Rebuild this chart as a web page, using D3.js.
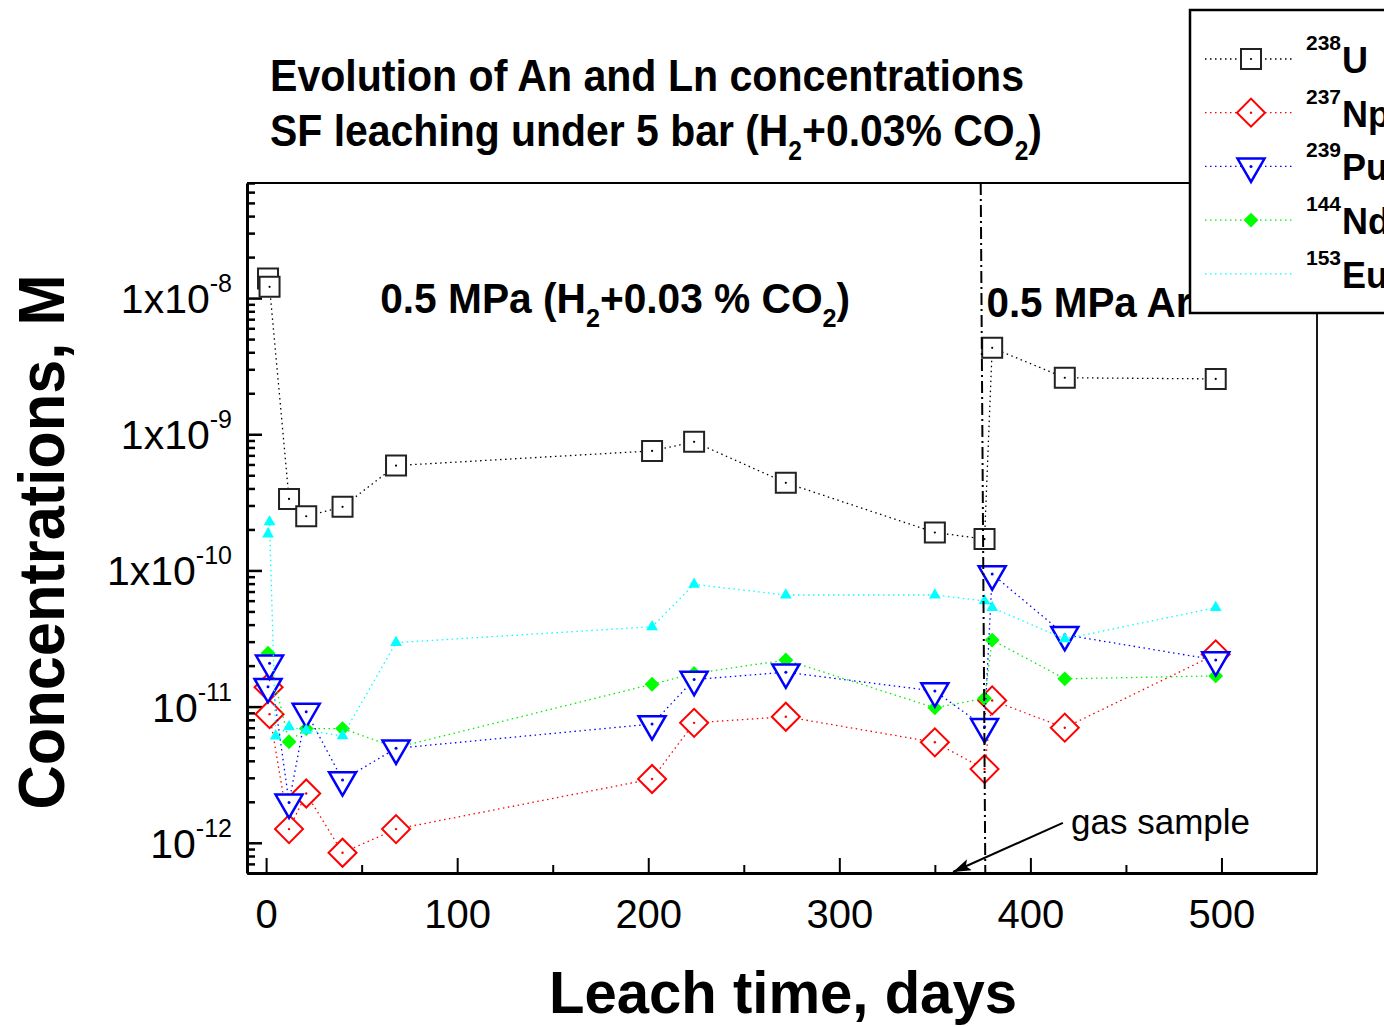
<!DOCTYPE html>
<html>
<head>
<meta charset="utf-8">
<script src="https://cdn.jsdelivr.net/npm/d3@7"></script>
<style>
    body { margin: 0; background: #fff; }
    svg { display: block; font-family: "Liberation Sans", Arial, sans-serif; }
</style>
</head>
<body>
<svg id="chart" width="1384" height="1027"></svg>
<script>

// ----------------------------------------------------------------------
//  DATA  (leach time in days, concentration in mol/L)
// ----------------------------------------------------------------------

const uDays  = [1.0, 1.8, 12, 21, 40, 68, 202, 224, 272, 350, 376, 380, 418, 497];
const uConc  = [1.39e-8, 1.21e-8, 3.35e-10, 2.5e-10, 2.93e-10, 5.89e-10, 7.55e-10, 8.8e-10,
                4.4e-10, 1.9e-10, 1.7e-10, 4.31e-9, 2.6e-9, 2.55e-9];

const npDays = [1.3, 1.8, 12, 21, 40, 68, 202, 224, 272, 350, 376, 380, 418, 497];
const npConc = [1.39e-11, 8.8e-12, 1.26e-12, 2.3e-12, 8.45e-13, 1.26e-12, 2.94e-12, 7.6e-12,
                8.43e-12, 5.47e-12, 3.48e-12, 1.11e-11, 7.0e-12, 2.42e-11];

const puDays = [1.0, 1.8, 12, 21, 40, 68, 202, 224, 272, 350, 376, 380, 418, 497];
const puConc = [1.4e-11, 2.08e-11, 1.98e-12, 9.18e-12, 2.89e-12, 4.94e-12, 7.45e-12, 1.58e-11,
                1.79e-11, 1.3e-11, 7.1e-12, 9.4e-11, 3.37e-11, 2.2e-11];

const ndDays = [1.0, 12, 21, 40, 68, 202, 224, 272, 350, 376, 380, 418, 497];
const ndConc = [2.47e-11, 5.52e-12, 6.9e-12, 6.9e-12, 5.0e-12, 1.46e-11, 1.75e-11, 2.2e-11,
                9.8e-12, 1.15e-11, 3.08e-11, 1.6e-11, 1.68e-11];

const euDays = [1.0, 1.8, 5, 12, 21, 40, 68, 202, 224, 272, 350, 376, 380, 418, 497];
const euConc = [1.85e-10, 2.27e-10, 6.08e-12, 7.1e-12, 6.7e-12, 6.1e-12, 2.95e-11, 3.86e-11,
                7.9e-11, 6.6e-11, 6.6e-11, 5.97e-11, 5.33e-11, 3.14e-11, 5.33e-11];

// Axis ticks and labels
const xTicks      = [0, 100, 200, 300, 400, 500];
const xMinorTicks = [50, 150, 250, 350, 450];
const yTicks      = [1e-8, 1e-9, 1e-10, 1e-11, 1e-12];
const yTickBase   = ["1x10", "1x10", "1x10", "10", "10"];
const yTickExp    = ["-8", "-9", "-10", "-11", "-12"];

// Legend labels
const legendMass    = ["238", "237", "239", "144", "153"];
const legendElement = ["U", "Np", "Pu", "Nd", "Eu"];

// Atmosphere change (dash-dot line) and gas sample arrow, in data units
const switchDays   = [374, 376.4];
const arrowFrom    = [417, 1.4e-12];
const arrowTo      = [359.5, 6.1e-13];

// ----------------------------------------------------------------------
//  SETUP
// ----------------------------------------------------------------------

const svg = d3.select("#chart");

const plot = { left: 247, right: 1317, top: 183, bottom: 873 };

const x = d3.scaleLinear()
    .domain([-10, 550])
    .range([plot.left, plot.right]);

const y = d3.scaleLog()
    .domain([6e-13, 7e-8])
    .range([plot.bottom, plot.top]);

svg.append("defs").append("marker")
    .attr("id", "arrowHead")
    .attr("markerUnits", "userSpaceOnUse")
    .attr("markerWidth", 20)
    .attr("markerHeight", 12)
    .attr("refX", 18)
    .attr("refY", 6)
    .attr("orient", "auto")
    .append("path")
    .attr("d", "M0,0 L18,6 L0,12 L4,6 Z")
    .attr("fill", "#000");

// Series styles
const series = [
    { days: uDays,  conc: uConc,  color: "#000000", marker: "square" },
    { days: npDays, conc: npConc, color: "#ff0000", marker: "openDiamond" },
    { days: ndDays, conc: ndConc, color: "#00ee00", marker: "filledDiamond" },
    { days: puDays, conc: puConc, color: "#0000ff", marker: "openTriangleDown" },
    { days: euDays, conc: euConc, color: "#00ffff", marker: "filledTriangle" }
];
const legendOrder = [0, 1, 3, 2, 4];

function drawMarker(g, kind, color) {
    if (kind === "square") {
        g.append("path").attr("d", d3.symbol(d3.symbolSquare, 400)())
            .attr("fill", "#fff").attr("stroke", "#222").attr("stroke-width", 2);
        g.append("circle").attr("r", 1.1).attr("fill", "#000");
    } else if (kind === "openDiamond") {
        g.append("path").attr("d", d3.symbol(d3.symbolSquare, 392)())
            .attr("transform", "rotate(45)")
            .attr("fill", "#fff").attr("stroke", color).attr("stroke-width", 2);
        g.append("circle").attr("r", 1.2).attr("fill", color);
    } else if (kind === "openTriangleDown") {
        g.append("path").attr("d", d3.symbol(d3.symbolTriangle, 316)())
            .attr("transform", "rotate(180)")
            .attr("fill", "#fff").attr("stroke", color).attr("stroke-width", 2.5);
        g.append("circle").attr("r", 1.5).attr("fill", color);
    } else if (kind === "filledDiamond") {
        g.append("path").attr("d", d3.symbol(d3.symbolSquare, 110)())
            .attr("transform", "rotate(45)")
            .attr("fill", "#00ff00");
    } else if (kind === "filledTriangle") {
        g.append("path").attr("d", d3.symbol(d3.symbolTriangle, 60)())
            .attr("fill", color);
    }
}

// ----------------------------------------------------------------------
//  TITLES
// ----------------------------------------------------------------------

svg.append("text")
    .attr("x", 270).attr("y", 91)
    .attr("font-size", 45).attr("font-weight", "bold")
    .attr("textLength", 754).attr("lengthAdjust", "spacingAndGlyphs")
    .text("Evolution of An and Ln concentrations");

const t2 = svg.append("text")
    .attr("x", 270).attr("y", 146)
    .attr("font-size", 45).attr("font-weight", "bold")
    .attr("textLength", 772).attr("lengthAdjust", "spacingAndGlyphs");
t2.append("tspan").text("SF leaching under 5 bar (H");
t2.append("tspan").attr("font-size", 27).attr("dy", 14).text("2");
t2.append("tspan").attr("dy", -14).text("+0.03% CO");
t2.append("tspan").attr("font-size", 27).attr("dy", 14).text("2");
t2.append("tspan").attr("dy", -14).text(")");

// ----------------------------------------------------------------------
//  AXES
// ----------------------------------------------------------------------

// Frame (top and right)
svg.append("path")
    .attr("d", `M${plot.left},${plot.top}H${plot.right}V${plot.bottom}`)
    .attr("fill", "none").attr("stroke", "#000").attr("stroke-width", 1.8);

// Y axis, minor then major ticks (pointing inwards).
const yMinor = y.ticks().filter(v => !yTicks.includes(v));
svg.append("g")
    .attr("transform", `translate(${plot.left},0)`)
    .call(d3.axisLeft(y).tickValues(yMinor).tickSize(-8).tickSizeOuter(0).tickFormat(""))
    .call(g => g.select(".domain").remove())
    .call(g => g.selectAll(".tick line").attr("stroke-width", 2.5));

const yAxis = svg.append("g")
    .attr("transform", `translate(${plot.left},0)`)
    .call(d3.axisLeft(y).tickValues(yTicks).tickSize(-15).tickSizeOuter(0).tickFormat(""));
yAxis.select(".domain").attr("stroke-width", 3);
yAxis.selectAll(".tick line").attr("stroke-width", 2.5);

const yLabels = svg.append("g")
    .selectAll("text")
    .data(yTicks)
    .join("text")
    .attr("x", 232)
    .attr("y", d => y(d) + 15)
    .attr("text-anchor", "end")
    .attr("font-size", 41);
yLabels.append("tspan").text((d, i) => yTickBase[i]);
yLabels.append("tspan").attr("font-size", 25).attr("dy", -21).text((d, i) => yTickExp[i]);

// X axis
svg.append("g")
    .attr("transform", `translate(0,${plot.bottom})`)
    .call(d3.axisBottom(x).tickValues(xMinorTicks).tickSize(-8).tickSizeOuter(0).tickFormat(""))
    .call(g => g.select(".domain").remove())
    .call(g => g.selectAll(".tick line").attr("stroke-width", 2));

const xAxis = svg.append("g")
    .attr("transform", `translate(0,${plot.bottom})`)
    .call(d3.axisBottom(x).tickValues(xTicks).tickSize(-15).tickSizeOuter(0).tickPadding(27));
xAxis.select(".domain").attr("stroke-width", 3);
xAxis.selectAll(".tick line").attr("stroke-width", 2);
xAxis.selectAll(".tick text")
    .attr("font-size", 40)
    .attr("font-family", "Liberation Sans, Arial, sans-serif")
    .attr("fill", "#000");

// Axis titles
svg.append("text")
    .attr("transform", "translate(64,542) rotate(-90)")
    .attr("text-anchor", "middle")
    .attr("font-size", 64).attr("font-weight", "bold")
    .attr("textLength", 535).attr("lengthAdjust", "spacingAndGlyphs")
    .text("Concentrations, M");

svg.append("text")
    .attr("x", 783).attr("y", 1013)
    .attr("text-anchor", "middle")
    .attr("font-size", 59).attr("font-weight", "bold")
    .attr("textLength", 468).attr("lengthAdjust", "spacingAndGlyphs")
    .text("Leach time, days");

// ----------------------------------------------------------------------
//  ANNOTATIONS
// ----------------------------------------------------------------------

const a1 = svg.append("text")
    .attr("x", x(59.7)).attr("y", y(7.8e-9))
    .attr("font-size", 42).attr("font-weight", "bold")
    .attr("textLength", 470).attr("lengthAdjust", "spacingAndGlyphs");
a1.append("tspan").text("0.5 MPa (H");
a1.append("tspan").attr("font-size", 26).attr("dy", 14).text("2");
a1.append("tspan").attr("dy", -14).text("+0.03 % CO");
a1.append("tspan").attr("font-size", 26).attr("dy", 14).text("2");
a1.append("tspan").attr("dy", -14).text(")");

svg.append("text")
    .attr("x", x(377)).attr("y", y(7.3e-9))
    .attr("font-size", 42).attr("font-weight", "bold")
    .attr("textLength", 205).attr("lengthAdjust", "spacingAndGlyphs")
    .text("0.5 MPa Ar");

svg.append("text")
    .attr("x", x(421.3)).attr("y", y(1.17e-12))
    .attr("font-size", 35)
    .text("gas sample");

svg.append("line")
    .attr("x1", x(arrowFrom[0])).attr("y1", y(arrowFrom[1]))
    .attr("x2", x(arrowTo[0])).attr("y2", y(arrowTo[1]))
    .attr("stroke", "#000").attr("stroke-width", 2)
    .attr("marker-end", "url(#arrowHead)");

// ----------------------------------------------------------------------
//  SERIES
// ----------------------------------------------------------------------

const line = d3.line()
    .x(d => x(d[0]))
    .y(d => y(d[1]));

series.forEach(s => {
    const pts = d3.zip(s.days, s.conc);
    svg.append("path")
        .datum(pts)
        .attr("d", line)
        .attr("fill", "none")
        .attr("stroke", s.color)
        .attr("stroke-width", 1.3)
        .attr("stroke-dasharray", "1.5 3.5");
    svg.append("g")
        .selectAll("g")
        .data(pts)
        .join("g")
        .attr("transform", d => `translate(${x(d[0])},${y(d[1])})`)
        .each(function () { drawMarker(d3.select(this), s.marker, s.color); });
});

// Dash-dot line at the atmosphere switch
svg.append("line")
    .attr("x1", x(switchDays[0])).attr("y1", plot.top)
    .attr("x2", x(switchDays[1])).attr("y2", plot.bottom)
    .attr("stroke", "#000").attr("stroke-width", 2)
    .attr("stroke-dasharray", "12 4 2 4");

// ----------------------------------------------------------------------
//  LEGEND
// ----------------------------------------------------------------------

const legend = svg.append("g");
legend.append("rect")
    .attr("x", 1190).attr("y", 10)
    .attr("width", 220).attr("height", 303)
    .attr("fill", "#fff").attr("stroke", "#000").attr("stroke-width", 2.5);

legendOrder.forEach((si, i) => {
    const s = series[si];
    const rowY = 59 + i * 53.7;
    legend.append("line")
        .attr("x1", 1205).attr("x2", 1293)
        .attr("y1", rowY).attr("y2", rowY)
        .attr("stroke", s.color).attr("stroke-width", 1.3)
        .attr("stroke-dasharray", "1.5 3.5");
    if (s.marker !== "filledTriangle") {
        drawMarker(legend.append("g").attr("transform", `translate(1251,${rowY})`), s.marker, s.color);
    }
    const lbl = legend.append("text")
        .attr("x", 1306).attr("y", rowY - 9)
        .attr("font-weight", "bold");
    lbl.append("tspan").attr("font-size", 21).text(legendMass[i]);
    lbl.append("tspan").attr("x", 1342).attr("font-size", 36).attr("dy", 23).text(legendElement[i]);
});

</script>
</body>
</html>
